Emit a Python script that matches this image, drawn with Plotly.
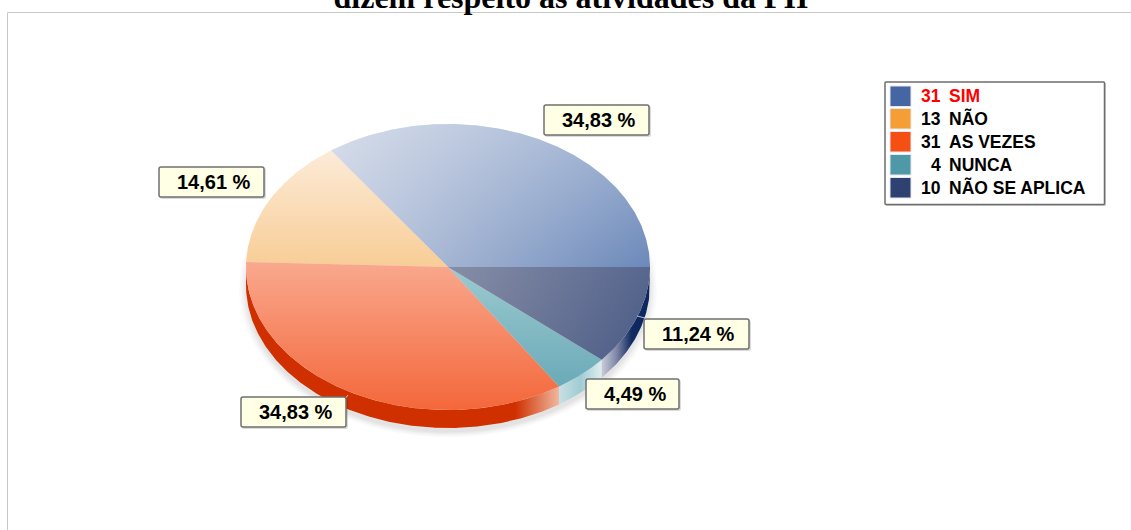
"""Elliptical pie with a shaded rim, built from filled scatter wedges."""

import numpy as np
import plotly.graph_objects as go

# data
categories = ["SIM", "NÃO", "AS VEZES", "NUNCA", "NÃO SE APLICA"]
counts = [31, 13, 31, 4, 10]
percent_labels = ["34,83 %", "14,61 %", "34,83 %", "4,49 %", "11,24 %"]
swatch_colors = ["#4565A3", "#F59E35", "#F54F14", "#4E98A8", "#2D4270"]

# page geometry, in pixels
WIDTH, HEIGHT = 1131, 530
CX, CY, RX, RY = 448, 267, 202, 143
DEPTH = 18 / RY

# top face gradients: (direction, first colour, last colour)
top_fill = [
    ("horizontal", "#C2CCE0", "#6C89BA"),
    ("vertical", "#F8CD96", "#FCEBD8"),
    ("vertical", "#F4673A", "#F9A88E"),
    ("vertical", "#6BAAB8", "#9CCAD0"),
    ("horizontal", "#7C849F", "#4A5A85"),
]
# extra white wash on the top of a wedge
top_wash = [0.35, 0, 0, 0, 0.08]
rim_fill = [
    None,
    None,
    [[0, "#D03000"], [0.86, "#D03000"], [1, "#F0B8A0"]],
    [[0, "#C8E0E4"], [0.5, "#A0CCD4"], [1, "#E0EEF0"]],
    [[0, "#C8CCD8"], [0.3, "#8088A8"], [0.62, "#102A60"], [1, "#0C2660"]],
]
# box centre and width of each value label
label_boxes = [(596.5, 120, 105), (211.5, 182, 105), (293.5, 412, 105), (632.5, 394, 93), (696.5, 334, 105)]
legend_rows = [96, 118.5, 141.5, 164.5, 187.5]


def px_x(x):
    return x / WIDTH


def px_y(y):
    return 1 - y / HEIGHT


def arc(start, stop):
    t = np.radians(np.linspace(start, stop, max(int(abs(stop - start)) * 2, 2) + 1))
    return np.cos(t), np.sin(t)


fig = go.Figure()

# soft shadow under the pie
for grow in [1.035, 1.028, 1.021, 1.015, 1.01, 1.005, 1.0]:
    x, y = arc(180, 540)
    fig.add_trace(
        go.Scatter(
            x=x * grow,
            y=y * grow - DEPTH - 0.03,
            mode="lines",
            fill="toself",
            fillcolor="rgba(60,60,60,0.018)",
            line={"width": 0},
            hoverinfo="skip",
            showlegend=False,
        )
    )

angles = np.cumsum([0] + counts) / sum(counts) * 360

# rim
for i, cat in enumerate(categories):
    start, stop = angles[i], angles[i + 1]
    if rim_fill[i] is None:
        continue
    x, y = arc(max(start, 180), stop)
    fig.add_trace(
        go.Scatter(
            x=np.concatenate([x, x[::-1]]),
            y=np.concatenate([y, y[::-1] - DEPTH]),
            mode="lines",
            fill="toself",
            fillgradient={"type": "horizontal", "colorscale": rim_fill[i]},
            line={"width": 0},
            name=cat,
            hoverinfo="skip",
            showlegend=False,
        )
    )

# top faces
for i, cat in enumerate(categories):
    x, y = arc(angles[i], angles[i + 1])
    x = np.concatenate([[0], x, [0]])
    y = np.concatenate([[0], y, [0]])
    kind, first, last = top_fill[i]
    fig.add_trace(
        go.Scatter(
            x=x,
            y=y,
            mode="lines",
            fill="toself",
            fillgradient={"type": kind, "colorscale": [[0, first], [1, last]]},
            line={"width": 0},
            name=cat,
            text=f"{counts[i]} {cat}: {percent_labels[i]}",
            hoverinfo="text",
            showlegend=False,
        )
    )
    if top_wash[i]:
        fig.add_trace(
            go.Scatter(
                x=x,
                y=y,
                mode="lines",
                fill="toself",
                fillgradient={
                    "type": "vertical",
                    "colorscale": [
                        [0, "rgba(255,255,255,0)"],
                        [1, f"rgba(255,255,255,{top_wash[i]})"],
                    ],
                },
                line={"width": 0},
                hoverinfo="skip",
                showlegend=False,
            )
        )

shapes = []
annotations = []


def paper_rect(x0, y0, x1, y1, radius=0, **kw):
    # rounded box as a path in paper coordinates
    corners = [
        f"M{px_x(x0 + radius)},{px_y(y0)}",
        f"L{px_x(x1 - radius)},{px_y(y0)}",
        f"Q{px_x(x1)},{px_y(y0)} {px_x(x1)},{px_y(y0 + radius)}",
        f"L{px_x(x1)},{px_y(y1 - radius)}",
        f"Q{px_x(x1)},{px_y(y1)} {px_x(x1 - radius)},{px_y(y1)}",
        f"L{px_x(x0 + radius)},{px_y(y1)}",
        f"Q{px_x(x0)},{px_y(y1)} {px_x(x0)},{px_y(y1 - radius)}",
        f"L{px_x(x0)},{px_y(y0 + radius)}",
        f"Q{px_x(x0)},{px_y(y0)} {px_x(x0 + radius)},{px_y(y0)}Z",
    ]
    shapes.append(
        {
            "type": "path",
            "xref": "paper",
            "yref": "paper",
            "path": " ".join(corners),
            "layer": "above",
            **kw,
        }
    )


def paper_line(x0, y0, x1, y1, color):
    shapes.append(
        {
            "type": "line",
            "xref": "paper",
            "yref": "paper",
            "x0": px_x(x0),
            "y0": px_y(y0),
            "x1": px_x(x1),
            "y1": px_y(y1),
            "line": {"color": color, "width": 1},
            "layer": "above",
        }
    )


def paper_text(text, x, y, size, color="#000000", xanchor="center"):
    annotations.append(
        {
            "text": f"<b>{text}</b>",
            "xref": "paper",
            "yref": "paper",
            "x": px_x(x),
            "y": px_y(y),
            "xanchor": xanchor,
            "yanchor": "middle",
            "showarrow": False,
            "font": {"family": "Liberation Sans", "size": size, "color": color},
        }
    )


# page frame
paper_line(7.5, 12.5, 7.5, HEIGHT, "#C8C8C8")
paper_line(7.5, 12.5, WIDTH, 12.5, "#C8C8C8")

# small leader ticks of the two labels that touch the pie
paper_line(637, 316, 645, 318, "#B8C0D0")
paper_line(345, 399, 348, 395, "#F0C0A8")

# value labels
for text, (bx, by, bw) in zip(percent_labels, label_boxes):
    paper_rect(bx - bw / 2 + 1, by - 14, bx + bw / 2 + 2, by + 17, radius=2,
               fillcolor="rgba(0,0,0,0.14)", line={"width": 0})
    paper_rect(bx - bw / 2, by - 15, bx + bw / 2, by + 15, radius=2,
               fillcolor="#FFFFE6", line={"color": "#707070", "width": 1.5})
    paper_text(text, bx + 2, by, 20)

# legend box
paper_rect(886, 83, 1106, 206, radius=1, fillcolor="rgba(0,0,0,0.2)", line={"width": 0})
paper_rect(885, 82, 1104.5, 204.5, radius=1, fillcolor="#FFFFFF",
           line={"color": "#6E6E6E", "width": 1.5})
for i, cat in enumerate(categories):
    row = legend_rows[i]
    color = "#FF0000" if i == 0 else "#000000"
    paper_rect(890, row - 10, 911, row + 10.5, fillcolor=swatch_colors[i],
               line={"color": "#E4E8F0", "width": 1})
    paper_text(counts[i], 943, row, 17.5, color, "right")
    paper_text(cat, 946.5, row, 17.5, color, "left")

fig.update_layout(
    width=WIDTH,
    height=HEIGHT,
    margin={"l": 0, "r": 0, "t": 0, "b": 0},
    paper_bgcolor="#FFFFFF",
    plot_bgcolor="#FFFFFF",
    showlegend=False,
    shapes=shapes,
    annotations=annotations,
    title={
        "text": "<b>dizem respeito às atividades da PII</b>",
        "x": 571 / WIDTH,
        "xanchor": "center",
        "y": 1 - 8 / HEIGHT,
        "yanchor": "bottom",
        "font": {"family": "Liberation Serif", "size": 32, "color": "#000000"},
    },
    xaxis={
        "range": [-CX / RX, (WIDTH - CX) / RX],
        "visible": False,
        "fixedrange": True,
    },
    yaxis={
        "range": [-(HEIGHT - CY) / RY, CY / RY],
        "visible": False,
        "fixedrange": True,
    },
)

# the page's default body margin would push the chart 8px down and right
fig.write_html(
    "out.html",
    config={"displayModeBar": False},
    post_script="document.body.style.margin = '0';",
)
